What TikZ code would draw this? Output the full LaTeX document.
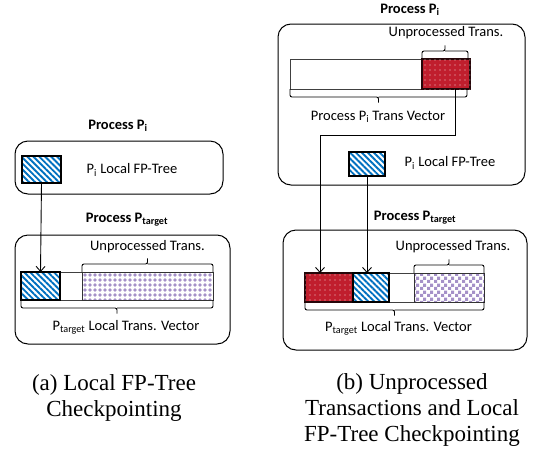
\documentclass[tikz,border=0pt]{standalone}
\usepackage{fontspec}
\setmainfont{Liberation Serif}
\newfontfamily\calibrifont{Carlito}
\usepackage{xcolor}
\usepackage{tikz}
\usetikzlibrary{positioning,calc,arrows.meta,patterns,patterns.meta}
\definecolor{treeblue}{RGB}{0,112,192}
\definecolor{unprocred}{RGB}{192,30,45}
\definecolor{transpurple}{RGB}{165,145,200}
\tikzdeclarepattern{
    name=trans checker,
    type=uncolored,
    bounding box={(0pt,0pt) and (7pt,7pt)},
    tile size={(7pt,7pt)},
    code={
        \fill (0pt,0pt) rectangle (3.5pt,3.5pt);
        \fill (3.5pt,3.5pt) rectangle (7pt,7pt);
    }
}
\tikzset{
    fp label/.style={font=\calibrifont\fontsize{14.5}{16}\selectfont, inner sep=0pt},
    fp title/.style={font=\calibrifont\bfseries\fontsize{14.5}{16}\selectfont, inner sep=0pt},
    fp caption/.style={font=\fontsize{23}{26}\selectfont, align=center, inner sep=0pt},
    process box/.style={
        rectangle,
        draw=black,
        line width=1pt,
        rounded corners=13pt,
        inner sep=0pt,
    },
    trans bar/.style={
        rectangle,
        draw=black!75,
        line width=0.8pt,
        inner sep=0pt,
        outer sep=0pt,
        anchor=north west,
    },
    seg/.style={
        rectangle,
        inner sep=0pt,
        outer sep=0pt,
        anchor=north west,
    },
    tree seg/.style={
        seg,
        draw=black,
        line width=1.3pt,
        pattern={Lines[angle=-45,distance=4.2pt,line width=1.9pt]},
        pattern color=treeblue,
    },
    unproc seg/.style={
        seg,
        draw=black!80!unprocred,
        line width=1.3pt,
        fill=unprocred,
        postaction={pattern={Dots[distance=5pt,radius=0.55pt]}, pattern color=white!80!unprocred},
    },
    dots seg/.style={
        seg,
        draw=black!80,
        line width=1pt,
        pattern={Dots[distance=5pt,radius=1.9pt]},
        pattern color=transpurple,
    },
    checker seg/.style={
        seg,
        draw=black!80,
        line width=1pt,
        pattern=trans checker,
        pattern color=transpurple,
    },
    %bracket: legs of #1, centre tick of 0.7*#1 (negative = upwards)
    trans brace/.style={
        line width=0.9pt,
        rounded corners=2pt,
        to path={
            -- ($(\tikztostart)+(0,#1)$)
            -- ($(\tikztostart)!0.5!(\tikztotarget)+(0,#1)$) -- ++(0,0.7*#1) ++(0,-0.7*#1)
            -- ($(\tikztotarget)+(0,#1)$) -- (\tikztotarget)
        },
    },
    ckpt arrow/.style={-{Straight Barb[length=5pt,width=9pt]}, line width=0.9pt},
}

\begin{document}
\begin{tikzpicture}[x=1pt,y=-1pt]
    \useasboundingbox (0,0) rectangle (534,450);

    %(a) local FP-tree checkpointing
    \node[fp title] (a-pi-title) at (118,126) {Process P\textsubscript{i}};
    \node[process box, minimum width=208pt, minimum height=53pt] (a-pi) at (119,167.5) {};
    \node[tree seg, minimum width=39pt, minimum height=27pt] (a-pi-tree) at (22,156) {};
    \node[fp label] (a-pi-text) at (132,170) {P\textsubscript{i} Local FP-Tree};

    \node[fp title] (a-t-title) at (127,220) {Process P\textsubscript{target}};
    \node[process box, minimum width=215pt, minimum height=109pt] (a-t) at (122.5,289.5) {};
    \node[trans bar, minimum width=192pt, minimum height=28pt] (a-bar) at (21,272) {};
    \node[tree seg, minimum width=39pt, minimum height=28pt] (a-tree) at (21,272) {};
    \node[dots seg, minimum width=131pt, minimum height=28pt] (a-unproc) at (82,272) {};

    \draw[trans brace=-8] (a-unproc.north west) to (a-unproc.north east);
    \node[fp label] (a-unproc-text) at ($(a-unproc.north)+(0,-25)$) {Unprocessed Trans.};
    \draw[trans brace=8] (a-bar.south west) to (a-bar.south east);
    \node[fp label] (a-bar-text) at ($(a-bar.south)+(9,27)$) {P\textsubscript{target} Local Trans. Vector};

    \draw[ckpt arrow] (a-pi-tree.south) -- (a-tree.north);

    \node[fp caption] (a-caption) at (114,398) {(a) Local FP-Tree\\Checkpointing};

    %(b) unprocessed transactions and local FP-tree checkpointing
    \node[fp title] (b-pi-title) at (410,10) {Process P\textsubscript{i}};
    \node[process box, minimum width=247pt, minimum height=161pt] (b-pi) at (401.5,104.5) {};
    \node[trans bar, minimum width=180pt, minimum height=30pt] (b-pi-bar) at (290,59) {};
    \node[unproc seg, minimum width=48pt, minimum height=30pt] (b-pi-unproc) at (422,59) {};

    \draw[trans brace=-8] (b-pi-unproc.north west) to ($(b-pi-unproc.north east)+(-2,0)$);
    \node[fp label] (b-pi-unproc-text) at ($(b-pi-unproc.north)+(0,-26)$) {Unprocessed Trans.};
    \draw[trans brace=8] (b-pi-bar.south west) to ($(b-pi-bar.south east)+(-3,0)$);
    \node[fp label] (b-pi-bar-text) at ($(b-pi-bar.south)+(-2,28)$) {Process P\textsubscript{i} Trans Vector};

    \node[tree seg, minimum width=36pt, minimum height=24pt] (b-pi-tree) at (349,152) {};
    \node[fp label] (b-pi-text) at (450,163) {P\textsubscript{i} Local FP-Tree};

    \node[fp title] (b-t-title) at (415,218) {Process P\textsubscript{target}};
    \node[process box, minimum width=244pt, minimum height=120pt] (b-t) at (405,290) {};
    \node[trans bar, minimum width=179pt, minimum height=29pt] (b-bar) at (305,273) {};
    \node[unproc seg, minimum width=48pt, minimum height=29pt] (b-red) at (305,273) {};
    \node[tree seg, minimum width=36pt, minimum height=29pt] (b-tree) at (353,273) {};
    \node[checker seg, minimum width=70pt, minimum height=29pt] (b-unproc) at (414,273) {};

    \draw[trans brace=-8] (b-unproc.north west) to (b-unproc.north east);
    \node[fp label] (b-unproc-text) at ($(b-unproc.north)+(4,-26)$) {Unprocessed Trans.};
    \draw[trans brace=8] (b-bar.south west) to (b-bar.south east);
    \node[fp label] (b-bar-text) at ($(b-bar.south)+(4,26)$) {P\textsubscript{target} Local Trans. Vector};

    \coordinate (b-turn) at (455,135);
    \coordinate (b-drop) at (320,135);
    \draw[ckpt arrow] (b-turn |- b-pi-unproc.south) -- (b-turn) -- (b-drop) -- (b-drop |- b-red.north);
    \draw[ckpt arrow] (b-pi-tree.south) -- (b-pi-tree.south |- b-tree.north);

    \node[fp caption] (b-caption) at (412,410) {(b) Unprocessed\\Transactions and Local\\FP-Tree Checkpointing};
\end{tikzpicture}
\end{document}
